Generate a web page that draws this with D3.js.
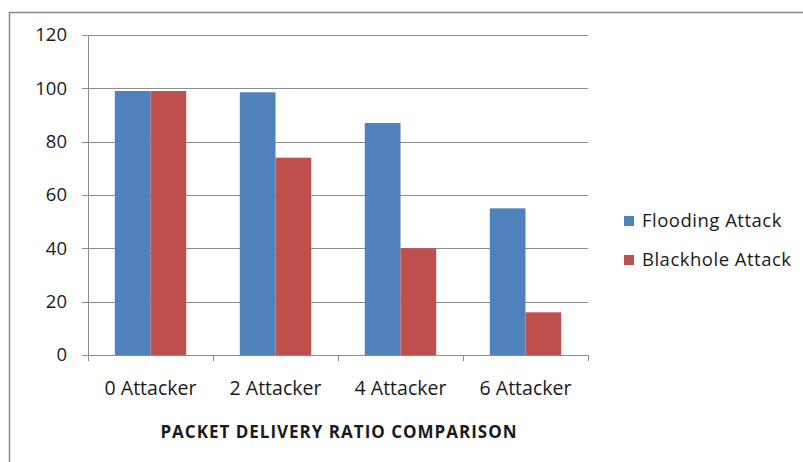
<!DOCTYPE html>
<html>
<head>
<meta charset="utf-8">
<script src="https://cdn.jsdelivr.net/npm/d3@7"></script>
<style>
body { margin: 0; background: #fff; }
text { font-family: "Open Sans", sans-serif; fill: #1a1a1a; }
</style>
</head>
<body>
<script>
var categories = ["0 Attacker", "2 Attacker", "4 Attacker", "6 Attacker"];
var seriesNames = ["Flooding Attack", "Blackhole Attack"];
var flooding = [99, 98.5, 87, 55];
var blackhole = [99, 74, 40, 16];
var yTicks = [0, 20, 40, 60, 80, 100, 120];
var colors = ["#4f81bd", "#c0504d"];

var W = 803, H = 462;
var margin = {top: 35, left: 88, right: 215, bottom: 107};
var width = W - margin.left - margin.right,   // 500
    height = H - margin.top - margin.bottom;  // 320

var svg = d3.select("body").append("svg")
  .attr("width", W).attr("height", H);

// outer frame
svg.append("rect")
  .attr("x", 9.5).attr("y", 12.5)
  .attr("width", W).attr("height", H)
  .attr("fill", "none").attr("stroke", "#8a8a8a").attr("stroke-width", 1.5);

var main = svg.append("g")
  .attr("transform", "translate(" + margin.left + "," + margin.top + ")");

var x = d3.scaleBand().domain(categories).range([0, width]);
// excel style: gap on each side = 0.75 bar width
var barW = x.bandwidth() / 3.5;
var x1 = d3.scaleBand().domain(seriesNames)
  .range([barW * 0.75, barW * 2.75]);

var y = d3.scaleLinear().domain([0, 120]).range([height, 0]);

// gridlines
main.append("g").selectAll("line")
  .data(yTicks)
  .enter().append("line")
  .attr("x1", -6).attr("x2", width)
  .attr("y1", function(d) { return Math.round(y(d)) + 0.5; })
  .attr("y2", function(d) { return Math.round(y(d)) + 0.5; })
  .attr("stroke", "#8c8c8c").attr("stroke-width", 1);

// y labels
main.append("g").selectAll("text")
  .data(yTicks)
  .enter().append("text")
  .attr("x", -21).attr("y", function(d) { return y(d); })
  .attr("dy", "0.35em")
  .attr("text-anchor", "end")
  .style("font-size", "18.5px")
  .text(function(d) { return d; });

// y axis line
main.append("line")
  .attr("x1", 0.5).attr("x2", 0.5).attr("y1", 0).attr("y2", height)
  .attr("stroke", "#8c8c8c");

// x axis ticks
var xt = d3.range(categories.length + 1).map(function(i) { return i * x.step(); });
main.append("g").selectAll("line")
  .data(xt)
  .enter().append("line")
  .attr("x1", function(d) { return Math.round(d) + 0.5; })
  .attr("x2", function(d) { return Math.round(d) + 0.5; })
  .attr("y1", height).attr("y2", height + 6)
  .attr("stroke", "#8c8c8c");

// bars
var groups = main.selectAll(".grp")
  .data(categories)
  .enter().append("g")
  .attr("transform", function(d) { return "translate(" + x(d) + ",0)"; });

groups.selectAll("rect")
  .data(function(d, i) {
    return [
      {s: seriesNames[0], v: flooding[i], c: colors[0]},
      {s: seriesNames[1], v: blackhole[i], c: colors[1]}
    ];
  })
  .enter().append("rect")
  .attr("x", function(d) { return x1(d.s); })
  .attr("width", x1.bandwidth())
  .attr("y", function(d) { return y(d.v); })
  .attr("height", function(d) { return height - y(d.v); })
  .attr("fill", function(d) { return d.c; });

// category labels
main.append("g").selectAll("text")
  .data(categories)
  .enter().append("text")
  .attr("x", function(d) { return x(d) + x.bandwidth() / 2; })
  .attr("y", height + 39.5)
  .attr("text-anchor", "middle")
  .style("font-size", "19.5px")
  .text(function(d) { return d; });

// title
svg.append("text")
  .attr("x", 339).attr("y", 438)
  .attr("text-anchor", "middle")
  .style("font-size", "17px").style("font-weight", "bold")
  .style("letter-spacing", "1px")
  .text("PACKET DELIVERY RATIO COMPARISON");

// legend
var legend = svg.append("g").attr("transform", "translate(624,212)");
var li = legend.selectAll("g")
  .data(seriesNames)
  .enter().append("g")
  .attr("transform", function(d, i) { return "translate(0," + (i * 39) + ")"; });
li.append("rect")
  .attr("width", 10).attr("height", 10)
  .attr("y", 4)
  .attr("fill", function(d, i) { return colors[i]; });
li.append("text")
  .attr("x", 18).attr("y", 9)
  .attr("dy", "0.35em")
  .style("font-size", "18.5px")
  .style("letter-spacing", "0.5px")
  .text(function(d) { return d; });
</script>
</body>
</html>
